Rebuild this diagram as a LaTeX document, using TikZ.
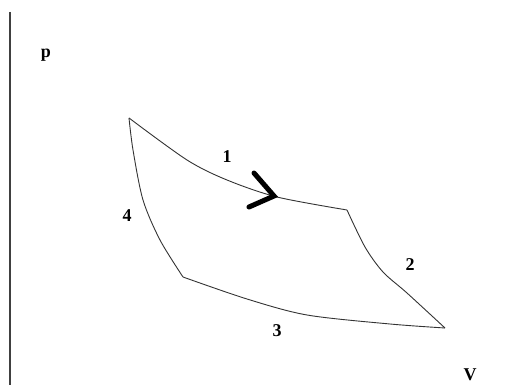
\documentclass[tikz,border=0pt]{standalone}
\usepackage{fontspec}
\setmainfont{Liberation Serif}
\usetikzlibrary{positioning}

\begin{document}
\begin{tikzpicture}[x=1pt, y=-1pt,
    cycleLine/.style={draw=black!80, line width=0.9pt, line join=round},
    stateLabel/.style={font=\fontsize{18}{20}\selectfont\bfseries, anchor=base, inner sep=0pt},
    dirMark/.style={draw=black, line width=5pt, line cap=round, line join=miter}
]
    \useasboundingbox (0,0) rectangle (523,385);

    \coordinate (axTop) at (10,12);
    \coordinate (axBot) at (10,385);
    \draw[line width=1.3pt, black!75] (axTop) -- (axBot);

    \node[stateLabel] (pLab) at (46,58) {p};
    \node[stateLabel] (vLab) at (470,381) {V};

    \coordinate (A) at (129,118);
    \coordinate (B) at (347,210);
    \coordinate (C) at (445,328);
    \coordinate (D) at (183,277);

    \draw[cycleLine] plot[smooth, tension=0.5] coordinates {(A) (187,160) (227,180) (277,197) (B)};
    \draw[cycleLine] plot[smooth, tension=0.5] coordinates {(B) (365,247) (383,272) (407,293) (C)};
    \draw[cycleLine] plot[smooth, tension=0.5] coordinates {(C) (390,324) (307,315) (247,299) (D)};
    \draw[cycleLine] plot[smooth, tension=0.5] coordinates {(D) (160,240) (143,200) (133,150) (A)};

    \coordinate (tip) at (274,196);
    \coordinate (upEnd) at (254,173);
    \coordinate (loEnd) at (249,207);
    \draw[dirMark] (upEnd) -- (tip) -- (loEnd);

    \node[stateLabel] (l1) at (227,163) {1};
    \node[stateLabel] (l2) at (410,271) {2};
    \node[stateLabel] (l3) at (277,337) {3};
    \node[stateLabel] (l4) at (127,222) {4};
\end{tikzpicture}
\end{document}
